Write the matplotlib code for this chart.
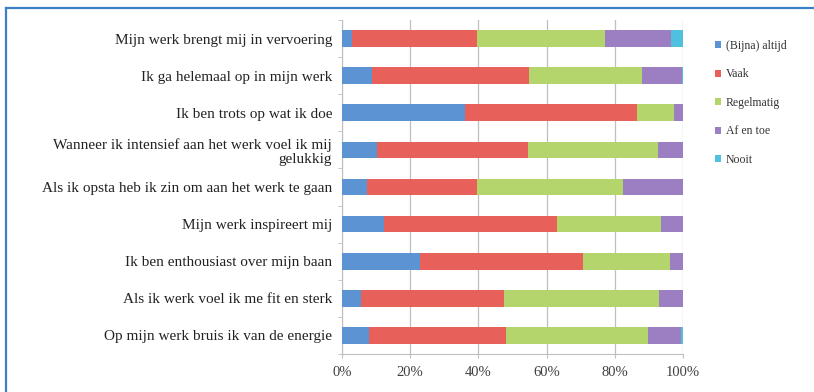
import numpy as np
import matplotlib
matplotlib.use('Agg')
import matplotlib.pyplot as plt
from matplotlib.lines import Line2D

# Statements, top to bottom as shown
statements = [
    'Mijn werk brengt mij in vervoering',
    'Ik ga helemaal op in mijn werk',
    'Ik ben trots op wat ik doe',
    'Wanneer ik intensief aan het werk voel ik mij\ngelukkig',
    'Als ik opsta heb ik zin om aan het werk te gaan',
    'Mijn werk inspireert mij',
    'Ik ben enthousiast over mijn baan',
    'Als ik werk voel ik me fit en sterk',
    'Op mijn werk bruis ik van de energie',
]

answers = ['(Bijna) altijd', 'Vaak', 'Regelmatig', 'Af en toe', 'Nooit']

# Share of respondents per answer (%)
altijd     = [3.0, 8.8, 36.2, 10.3, 7.4, 12.4, 23.0, 5.5, 8.0]
vaak       = [36.5, 46.2, 50.3, 44.4, 32.3, 50.8, 47.6, 41.9, 40.0]
regelmatig = [37.5, 33.0, 10.9, 37.9, 42.7, 30.3, 25.6, 45.6, 41.8]
af_en_toe  = [19.5, 11.7, 2.6, 7.4, 17.6, 6.5, 3.8, 7.0, 9.6]
nooit      = [3.5, 0.3, 0.0, 0.0, 0.0, 0.0, 0.0, 0.0, 0.6]

colors = ['#5b93d3', '#e8605a', '#b4d46c', '#9c7ec3', '#4fc1df']
series = [altijd, vaak, regelmatig, af_en_toe, nooit]

plt.rcParams['font.family'] = ['Liberation Serif', 'DejaVu Serif']
fig = plt.figure(figsize=(8.14, 3.92), dpi=100)
ax = fig.add_axes([0.420, 0.097, 0.419, 0.852])

# outer chart frame (only top and left edges are in view)
frame = '#3c7fc4'
fig.add_artist(Line2D([5.5 / 814, 5.5 / 814], [0, 1 - 7.5 / 392],
                      transform=fig.transFigure, color=frame, linewidth=1.6))
fig.add_artist(Line2D([5.5 / 814, 1], [1 - 7.5 / 392, 1 - 7.5 / 392],
                      transform=fig.transFigure, color=frame, linewidth=1.6))

y = np.arange(len(statements))
left = np.zeros(len(statements))
for name, vals, col in zip(answers, series, colors):
    ax.barh(y, vals, left=left, height=0.45, color=col, label=name, zorder=3)
    left += np.array(vals)

ax.set_xlim(0, 100)
ax.set_ylim(len(statements) - 0.5, -0.5)
ax.set_xticks(np.arange(0, 101, 20))
ax.set_xticklabels([f'{v}%' for v in range(0, 101, 20)], fontsize=10.5, color='#404040')
ax.set_yticks(y)
ax.set_yticklabels(statements, fontsize=11, color='#222222')
for lbl in ax.get_yticklabels():
    lbl.set_multialignment('right')
    lbl.set_linespacing(1.1)
ax.set_yticks(np.arange(-0.5, len(statements)), minor=True)
ax.tick_params(axis='y', which='major', length=0, pad=7)
ax.tick_params(axis='y', which='minor', length=3, color='#bfbfbf')
ax.tick_params(axis='x', length=3, color='#bfbfbf', pad=6)

ax.grid(axis='x', color='#bfbfbf', linewidth=0.9, zorder=0)
for side in ['top', 'right']:
    ax.spines[side].set_visible(False)
for side in ['left', 'bottom']:
    ax.spines[side].set_color('#bfbfbf')

leg = ax.legend(loc='upper left', bbox_to_anchor=(1.08, 0.955), frameon=False,
                fontsize=8.5, handlelength=0.55, handleheight=0.55,
                handletextpad=0.35, labelspacing=1.40, borderaxespad=0)
for t in leg.get_texts():
    t.set_color('#333333')

fig.savefig('out.png', dpi=100)
